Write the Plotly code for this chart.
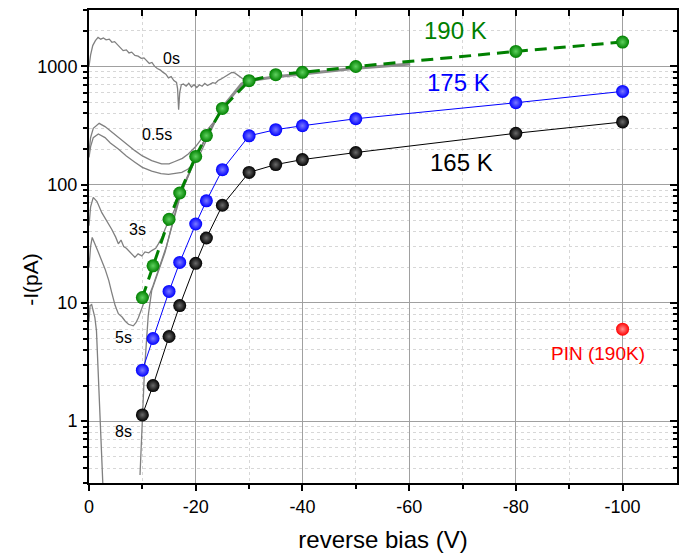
import numpy as np
import plotly.graph_objects as go

# ---------------- data ----------------
v_temp = [-10, -12, -15, -17, -20, -22, -25, -30, -35, -40, -50, -80, -100]
i_165 = [1.13, 2.0, 5.2, 9.5, 21.6, 35.4, 67, 127, 148, 163, 187, 272, 339]
i_175 = [2.7, 5.0, 12.5, 22, 46.5, 73, 134, 259, 292, 315, 361, 493, 615]
i_190 = [11.1, 20.6, 51, 85, 173, 260, 441, 757, 851, 891, 998, 1340, 1607]
v_pin = [-100]
i_pin = [6.0]

v_0s = [0, -0.3, -0.7, -1.2, -1.7, -2.2, -2.7, -3.2, -3.8, -4.3, -4.8, -5.4, -6.0, -6.4, -7.0,
        -7.5, -8.0, -8.6, -9.2, -9.8, -10.3, -10.8, -11.3, -11.8, -12.3, -12.8, -13.4, -13.9,
        -14.4, -14.9, -15.4, -15.9, -16.4, -16.6, -16.8, -17.0, -17.3, -17.7, -18.2, -18.7,
        -19.2, -19.7, -20.2, -20.7, -21.2, -21.7, -22.2, -22.7, -23.2, -23.7, -24.2, -24.7,
        -25.2, -25.7, -26.2, -26.75, -27.3, -28.0, -28.8, -29.6, -30.2]
i_0s = [1000, 1250, 1500, 1650, 1760, 1700, 1740, 1680, 1700, 1600, 1620, 1520, 1420, 1360, 1380,
        1300, 1320, 1240, 1220, 1170, 1180, 1117, 1060, 1080, 1000, 960, 930, 890,
        860, 800, 820, 760, 733, 650, 430, 600, 700, 709, 680, 720,
        670, 700, 664, 700, 680, 720, 690, 709, 730, 720, 760, 780,
        807, 830, 860, 891, 880, 834, 780, 740, 760]

v_05a = [0, -0.3, -0.8, -1.9, -3, -4, -5.5, -7, -8.6, -10, -11.75, -13.6, -15, -16.1, -17.5,
         -18.6, -20, -20.8, -22, -23.6, -25]
i_05a = [190, 250, 300, 330, 310, 285, 251, 220, 194, 175, 160, 150, 150, 157, 167,
         182, 210, 235, 285, 348, 450]

v_05b = [0, -0.3, -0.8, -1.75, -3, -4, -5.5, -7, -8.6, -10, -11.75, -13.5, -14.9, -16, -17.4,
         -18.5, -19.3, -20.8, -22, -23.5, -25]
i_05b = [170, 210, 250, 268, 250, 225, 200, 175, 155, 140, 130, 124, 122, 124, 127,
         135, 145, 182, 240, 330, 445]

v_3s = [0, -0.3, -0.8, -1.5, -2.4, -3.3, -4.25, -5, -5.5, -6, -6.5, -7, -7.4, -8, -8.6, -9.2,
        -9.9, -10.5, -11.2, -11.75, -12.5, -13, -13.7, -14.25, -15, -15.8, -17, -18.5, -20,
        -22, -25]
i_3s = [45, 65, 78, 72, 58, 50, 42, 36, 31.6, 34, 30, 29, 27.7, 26, 24.3, 26,
        25, 27, 26.5, 27.7, 29, 31.6, 36, 42, 50, 58, 80, 115, 165,
        255, 440]

v_5s = [0, -0.3, -0.6, -1.1, -1.75, -3, -3.7, -4.25, -4.9, -5.5, -6.2, -6.8, -7.4, -8.3, -8.8,
        -9.25, -10.2, -11.1, -12, -14.5, -17.3, -20, -22, -25]
i_5s = [20, 30, 35.8, 31, 26.8, 19.4, 15.5, 12.3, 9.5, 8.1, 7.6, 7.0, 6.6, 6.4, 6.8,
        7.5, 9.8, 11.0, 14, 30, 86, 168, 255, 445]

v_8s = [0, -0.2, -0.5, -1.1, -1.4, -1.75, -2.1, -2.4, -2.6, None,
        -9.56, -10, -10.4, -11.1, -11.75, -14.25, -17.1, -20, -22, -25]
i_8s = [7, 9.5, 9.7, 7.5, 5.8, 2.5, 1.0, 0.5, 0.29, None,
        0.35, 1.08, 2.7, 7.8, 12.7, 26.8, 86, 170, 258, 445]

v_tail = [-25, -26.75, -28.6, -30, -35, -40, -45, -50, -55, -60.2]
i_tail = [447, 565, 709, 757, 818, 863, 915, 965, 1005, 1048]

gray_curves = [(v_0s, i_0s), (v_05a, i_05a), (v_05b, i_05b), (v_3s, i_3s), (v_5s, i_5s), (v_8s, i_8s)]

x_major = [0, -20, -40, -60, -80, -100]
x_major_text = ["0", "-20", "-40", "-60", "-80", "-100"]
x_minor = [-10, -30, -50, -70, -90]
y_major = [1, 10, 100, 1000]
y_major_text = ["1", "10", "100", "1000"]
y_minor = [m * 10.0 ** e for e in range(-1, 4) for m in range(2, 10) if 0.3 <= m * 10.0 ** e <= 3000]

labels_gray = [("0s", -15.4, 1160), ("0.5s", -12.75, 265), ("3s", -9.0, 42), ("5s", -6.4, 5.1), ("8s", -6.4, 0.82)]

# ---------------- figure ----------------
FONT = "Arial, Liberation Sans, sans-serif"
x_range = [0, -110.2]
y_range = [np.log10(0.3), np.log10(3000)]

fig = go.Figure()
GRAY = "rgb(128,128,128)"
for vx, iy in gray_curves:
    fig.add_trace(go.Scatter(x=vx, y=iy, mode="lines", line=dict(color=GRAY, width=1.3),
                             showlegend=False, hoverinfo="skip", connectgaps=False))
fig.add_trace(go.Scatter(x=v_tail, y=i_tail, mode="lines", line=dict(color="rgb(140,140,140)", width=3),
                         showlegend=False, hoverinfo="skip"))


def ball(color, center):
    return dict(size=13, color=color, gradient=dict(type="radial", color=center), line=dict(width=0))


fig.add_trace(go.Scatter(x=v_temp, y=i_165, mode="lines+markers", line=dict(color="black", width=1),
                         marker=ball("black", "#6a6a6a"), showlegend=False))
fig.add_trace(go.Scatter(x=v_temp, y=i_175, mode="lines+markers", line=dict(color="#0000ff", width=1),
                         marker=ball("#0000ff", "#7a7aff"), showlegend=False))
fig.add_trace(go.Scatter(x=v_temp, y=i_190, mode="lines+markers",
                         line=dict(color="#008000", width=3, dash="12px,7px"),
                         marker=ball("#008000", "#5fd05f"), showlegend=False))
fig.add_trace(go.Scatter(x=v_pin, y=i_pin, mode="markers", marker=ball("#ff0000", "#ff9090"),
                         showlegend=False))
fig.add_trace(go.Scatter(x=[], y=[], xaxis="x2", yaxis="y2", showlegend=False, hoverinfo="skip"))

annotations = [
    dict(text="190 K", x=-68.6, y=np.log10(2000), font=dict(color="#008000", size=24)),
    dict(text="175 K", x=-69.2, y=np.log10(727), font=dict(color="#0000ff", size=24)),
    dict(text="165 K", x=-69.9, y=np.log10(154), font=dict(color="black", size=24)),
    dict(text="PIN (190K)", x=-95.4, y=np.log10(3.7), font=dict(color="#ff0000", size=19)),
]
for t, vx, iy in labels_gray:
    annotations.append(dict(text=t, x=vx, y=np.log10(iy), font=dict(color="black", size=16)))
for a in annotations:
    a.update(xref="x", yref="y", showarrow=False, xanchor="center", yanchor="middle")
    a["font"]["family"] = FONT
# y-axis title as a rotated annotation for precise placement
annotations.append(dict(text="-I(pA)", xref="paper", yref="paper", x=-0.100, y=0.43,
                        textangle=-90, showarrow=False, xanchor="center", yanchor="middle",
                        font=dict(family=FONT, size=21, color="black")))

grid_major = "rgb(160,160,160)"
grid_minor = "rgb(215,215,215)"

# the page body adds an 8px offset; size and margins compensate for it
fig.update_layout(
    width=681, height=550,
    margin=dict(l=81, r=12, t=2, b=75),
    paper_bgcolor="white", plot_bgcolor="white",
    font=dict(family=FONT, color="black", size=18),
    showlegend=False,
    annotations=annotations,
    xaxis=dict(
        range=x_range, tickmode="array", tickvals=x_major, ticktext=x_major_text,
        showgrid=True, gridcolor=grid_major, gridwidth=1, zeroline=False,
        showline=True, linecolor="black", linewidth=2, mirror=True,
        ticks="outside", ticklen=6, tickwidth=2, tickcolor="black",
        tickfont=dict(size=18), automargin=False,
        minor=dict(tickmode="array", tickvals=x_minor, ticks="outside", ticklen=4, tickwidth=1.5,
                   tickcolor="black", showgrid=True, gridcolor=grid_minor, griddash="dot", gridwidth=1),
        title=dict(text="reverse bias (V)", font=dict(size=24), standoff=16),
    ),
    yaxis=dict(
        type="log", range=y_range, tickmode="array", tickvals=y_major, ticktext=y_major_text,
        showgrid=True, gridcolor=grid_major, gridwidth=1, zeroline=False,
        showline=True, linecolor="black", linewidth=2, mirror=True,
        ticks="outside", ticklen=6, tickwidth=2, tickcolor="black",
        tickfont=dict(size=18), automargin=False,
        minor=dict(tickmode="array", tickvals=y_minor, ticks="outside", ticklen=4, tickwidth=1.5,
                   tickcolor="black", showgrid=True, gridcolor=grid_minor, griddash="dot", gridwidth=1),
    ),
    xaxis2=dict(
        overlaying="x", side="top", anchor="y2", range=x_range, tickmode="array",
        tickvals=x_major, showticklabels=False, showgrid=False, zeroline=False,
        ticks="inside", ticklen=6, tickwidth=2, tickcolor="black", showline=False,
        minor=dict(tickmode="array", tickvals=x_minor, ticks="inside", ticklen=6, tickwidth=1.5,
                   tickcolor="black", showgrid=False),
    ),
    yaxis2=dict(
        overlaying="y", side="right", anchor="x2", type="log", range=y_range, tickmode="array",
        tickvals=y_major, showticklabels=False, showgrid=False, zeroline=False,
        ticks="inside", ticklen=7, tickwidth=2, tickcolor="black", showline=False,
        minor=dict(tickmode="array", tickvals=y_minor, ticks="inside", ticklen=4, tickwidth=1.5,
                   tickcolor="black", showgrid=False),
    ),
)

fig.write_html("out.html")
